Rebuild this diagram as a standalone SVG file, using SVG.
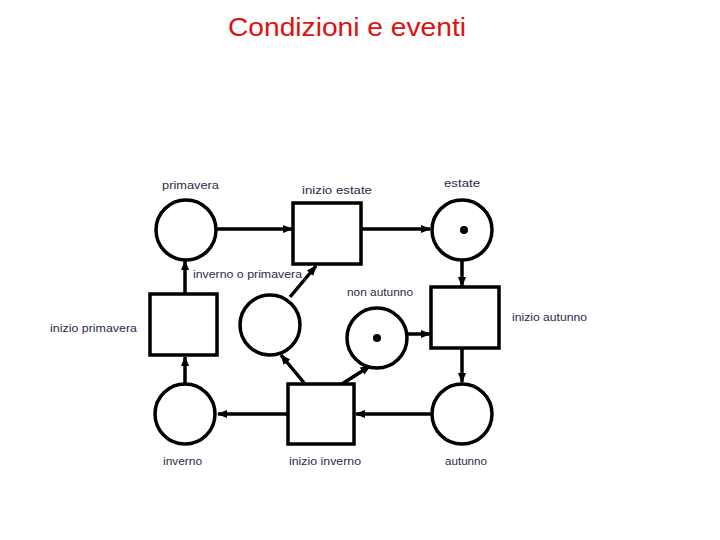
<svg xmlns="http://www.w3.org/2000/svg" width="720" height="540" viewBox="0 0 720 540">
<defs>
<marker id="ah" viewBox="0 0 10 10" refX="9" refY="5" markerWidth="3" markerHeight="3" orient="auto" markerUnits="strokeWidth">
<path d="M0,1 L10,5 L0,9 z" fill="#000"/>
</marker>
<style>
.p{fill:#fff;stroke:#000;stroke-width:3.5}
.t{fill:#fff;stroke:#000;stroke-width:3.5}
.e{fill:none;stroke:#000;stroke-width:3.5;marker-end:url(#ah)}
.tok{fill:#000}
.l{font-family:"Liberation Sans",Arial,sans-serif;font-size:11.5px;fill:#2a2a4a}
.title{font-family:"Liberation Sans",Arial,sans-serif;font-size:25px;fill:#dd1111}
</style>
</defs>
<rect width="720" height="540" fill="#fff"/>
<text class="title" x="347" y="36" text-anchor="middle" textLength="238" lengthAdjust="spacingAndGlyphs">Condizioni e eventi</text>
<g id="connectors">
<line class="e" x1="217" y1="229" x2="292" y2="229"/>
<line class="e" x1="361" y1="229" x2="430" y2="229"/>
<line class="e" x1="462" y1="261" x2="462" y2="286"/>
<line class="e" x1="408" y1="334" x2="430" y2="334"/>
<line class="e" x1="462" y1="348" x2="462" y2="382"/>
<line class="e" x1="431" y1="414" x2="356" y2="414"/>
<line class="e" x1="288" y1="414" x2="218" y2="414"/>
<line class="e" x1="185" y1="384" x2="185" y2="357"/>
<line class="e" x1="185" y1="294" x2="185" y2="261"/>
<line class="e" x1="305" y1="384" x2="281" y2="355"/>
<line class="e" x1="342" y1="384" x2="370" y2="366"/>
<line class="e" x1="290" y1="297" x2="316" y2="266"/>
</g>
<g id="primavera"><circle class="p" cx="186" cy="230" r="30"/><text class="l" x="162" y="189" textLength="57" lengthAdjust="spacingAndGlyphs">primavera</text></g>
<g id="inizio-estate"><rect class="t" x="293" y="203" width="68" height="61"/><text class="l" x="302" y="194" textLength="70" lengthAdjust="spacingAndGlyphs">inizio  estate</text></g>
<g id="estate"><circle class="p" cx="462" cy="230" r="30"/><circle class="tok" cx="464" cy="230" r="4"/><text class="l" x="444" y="187" textLength="36" lengthAdjust="spacingAndGlyphs">estate</text></g>
<g id="inizio-autunno"><rect class="t" x="431" y="287" width="68" height="61"/><text class="l" x="512" y="321" textLength="75" lengthAdjust="spacingAndGlyphs">inizio autunno</text></g>
<g id="non-autunno"><circle class="p" cx="377" cy="338" r="30"/><circle class="tok" cx="377" cy="338" r="4"/><text class="l" x="347" y="296" textLength="66" lengthAdjust="spacingAndGlyphs">non autunno</text></g>
<g id="inverno-o-primavera"><circle class="p" cx="270" cy="325" r="30"/><text class="l" x="193" y="278" textLength="109" lengthAdjust="spacingAndGlyphs">inverno o primavera</text></g>
<g id="inizio-primavera"><rect class="t" x="150" y="294" width="67" height="61"/><text class="l" x="50" y="332" textLength="87" lengthAdjust="spacingAndGlyphs">inizio primavera</text></g>
<g id="inverno"><circle class="p" cx="185" cy="414" r="30"/><text class="l" x="163" y="465" textLength="39" lengthAdjust="spacingAndGlyphs">inverno</text></g>
<g id="inizio-inverno"><rect class="t" x="288" y="384" width="66" height="60"/><text class="l" x="289" y="465" textLength="72" lengthAdjust="spacingAndGlyphs">inizio inverno</text></g>
<g id="autunno"><circle class="p" cx="462" cy="414" r="30"/><text class="l" x="445" y="465" textLength="42" lengthAdjust="spacingAndGlyphs">autunno</text></g>
</svg>
